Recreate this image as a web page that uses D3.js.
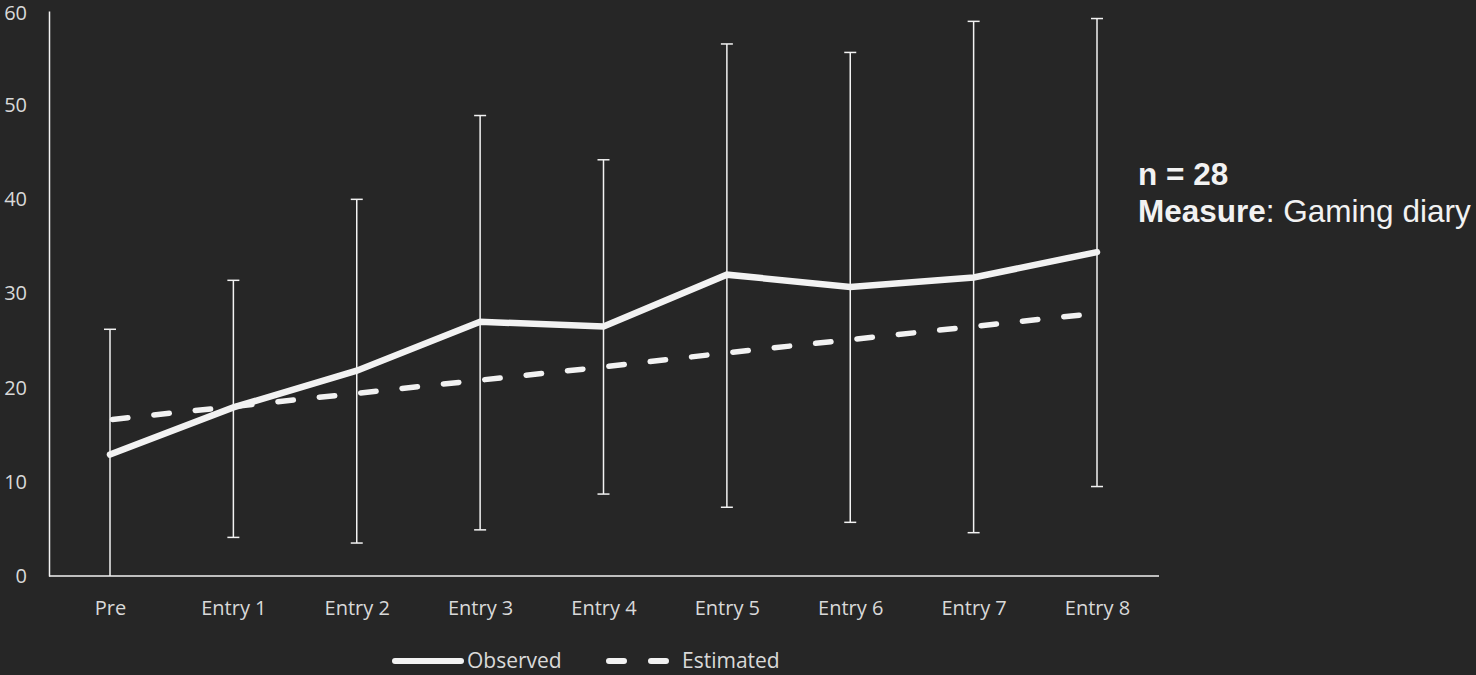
<!DOCTYPE html>
<html>
<head>
<meta charset="utf-8">
<script src="https://cdn.jsdelivr.net/npm/d3@7/dist/d3.min.js"></script>
<style>
  html, body { margin: 0; padding: 0; background: #262626; }
  svg { display: block; }
</style>
</head>
<body>
<svg id="chart" width="1476" height="675"></svg>
<script>
// Gaming diary: observed means with error bars and model-estimated trend
const categories = ["Pre", "Entry 1", "Entry 2", "Entry 3", "Entry 4", "Entry 5", "Entry 6", "Entry 7", "Entry 8"];
const observed   = [12.9, 17.9, 21.8, 27.0, 26.5, 32.0, 30.7, 31.7, 34.4];
const estimated  = [16.6, 18.0, 19.4, 20.8, 22.2, 23.7, 25.1, 26.5, 27.9];
const errUpper   = [26.2, 31.4, 40.0, 48.9, 44.2, 56.5, 55.6, 58.9, 59.2];
const errLower   = [0.0, 4.1, 3.5, 4.9, 8.7, 7.3, 5.7, 4.6, 9.5];
const yTicks     = [0, 10, 20, 30, 40, 50, 60];

const svg = d3.select("#chart");
const fg = "#f2f2f2";
const labelColor = "#d9d9d9";
const font = "'Open Sans', Lato, sans-serif";

const x = d3.scalePoint().domain(categories).range([110, 1097]);
const y = d3.scaleLinear().domain([0, 60]).range([576, 11]);

// Axes
const yAxis = svg.append("g")
  .attr("transform", "translate(49,0)")
  .call(d3.axisLeft(y).tickValues(yTicks).tickSize(0).tickPadding(22));
yAxis.select(".domain").attr("stroke", fg).attr("stroke-width", 1.5);
yAxis.selectAll("text").attr("fill", labelColor).style("font-family", font).style("font-size", "20px");
// keep the top label inside the frame
yAxis.selectAll(".tick").filter(d => d === 60).select("text").attr("y", 2);

const xAxis = svg.append("g")
  .attr("transform", "translate(0,576)")
  .call(d3.axisBottom(x).tickSize(0).tickPadding(25));
xAxis.select(".domain").attr("d", "M49,0H1159").attr("stroke", fg).attr("stroke-width", 1.5);
xAxis.selectAll("text").attr("fill", labelColor).style("font-family", font).style("font-size", "20px");

// Error bars
const bars = svg.append("g").attr("stroke", fg).attr("stroke-width", 1.5);
categories.forEach((c, i) => {
  const cx = x(c);
  bars.append("line").attr("x1", cx).attr("x2", cx).attr("y1", y(errUpper[i])).attr("y2", y(errLower[i]));
  bars.append("line").attr("x1", cx - 6).attr("x2", cx + 6).attr("y1", y(errUpper[i])).attr("y2", y(errUpper[i]));
  if (errLower[i] > 0) {
    bars.append("line").attr("x1", cx - 6).attr("x2", cx + 6).attr("y1", y(errLower[i])).attr("y2", y(errLower[i]));
  }
});

const line = d3.line().x((d, i) => x(categories[i])).y(d => y(d));

// Estimated trend (dashed)
svg.append("path")
  .datum(estimated)
  .attr("d", line)
  .attr("fill", "none")
  .attr("stroke", fg)
  .attr("stroke-width", 5.5)
  .attr("stroke-linecap", "round")
  .attr("stroke-dasharray", "15.5 26.1")
  .attr("stroke-dashoffset", -2.5);

// Observed means
svg.append("path")
  .datum(observed)
  .attr("d", line)
  .attr("fill", "none")
  .attr("stroke", fg)
  .attr("stroke-width", 6.5)
  .attr("stroke-linejoin", "miter")
  .attr("stroke-linecap", "round");

// Legend
const legend = svg.append("g");
legend.append("line").attr("x1", 395).attr("x2", 461).attr("y1", 661).attr("y2", 661)
  .attr("stroke", fg).attr("stroke-width", 6).attr("stroke-linecap", "round");
legend.append("text").attr("x", 467).attr("y", 668).text("Observed")
  .attr("fill", labelColor).style("font-family", font).style("font-size", "21px");
legend.append("line").attr("x1", 609).attr("x2", 667).attr("y1", 661).attr("y2", 661)
  .attr("stroke", fg).attr("stroke-width", 6).attr("stroke-linecap", "round")
  .attr("stroke-dasharray", "15 27");
legend.append("text").attr("x", 682).attr("y", 668).text("Estimated")
  .attr("fill", labelColor).style("font-family", font).style("font-size", "21px");

// Annotation
const note = svg.append("g").style("font-family", "'Liberation Sans', Arial, sans-serif").style("font-size", "31.5px").attr("fill", fg);
note.append("text").attr("x", 1138).attr("y", 185).attr("font-weight", "bold").text("n = 28");
const t2 = note.append("text").attr("x", 1138).attr("y", 222);
t2.append("tspan").attr("font-weight", "bold").text("Measure");
t2.append("tspan").text(": Gaming diary");
</script>
</body>
</html>
